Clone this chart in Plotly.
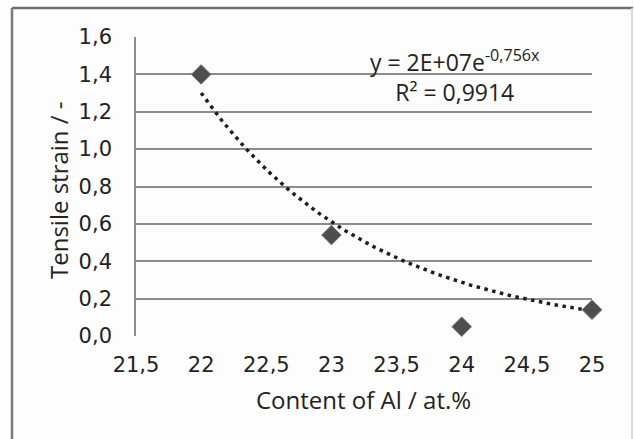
import numpy as np
import plotly.graph_objects as go

# Data
al_content = [22, 23, 24, 25]
tensile_strain = [1.40, 0.54, 0.05, 0.14]

# Exponential trendline as labelled on the chart (y = A*e^(b*x))
trend_a = 2.174e7
trend_b = -0.756
trend_x = np.linspace(22, 25, 120)
trend_y = trend_a * np.exp(trend_b * trend_x)

x_ticks = [21.5, 22, 22.5, 23, 23.5, 24, 24.5, 25]
x_tick_labels = ["21,5", "22", "22,5", "23", "23,5", "24", "24,5", "25"]
y_ticks = [0, 0.2, 0.4, 0.6, 0.8, 1.0, 1.2, 1.4, 1.6]
y_tick_labels = ["0,0", "0,2", "0,4", "0,6", "0,8", "1,0", "1,2", "1,4", "1,6"]

W, H = 634, 439
L, R, T, B = 136, 42, 37, 103
pw, ph = W - L - R, H - T - B


def px(xp):
    return (xp - L) / pw


def py(yp):
    return (H - B - yp) / ph


fig = go.Figure()
fig.add_trace(go.Scatter(
    x=trend_x, y=trend_y, mode="lines",
    line=dict(color="#1e1e1e", width=3.5, dash="3.5px,4.5px"),
    hoverinfo="skip", showlegend=False, cliponaxis=False,
))
fig.add_trace(go.Scatter(
    x=al_content, y=tensile_strain, mode="markers",
    marker=dict(symbol="diamond", size=15, color="#4e4e4e",
                line=dict(color="#6e6e6e", width=1)),
    showlegend=False, cliponaxis=False,
))

tick_font = dict(family="DejaVu Sans", size=21, color="#222222")
fig.update_xaxes(
    range=[21.5, 25], tickvals=x_ticks, ticktext=x_tick_labels,
    showgrid=False, zeroline=False, showline=False,
    ticks="", tickfont=tick_font, ticklabelstandoff=14,
)
fig.update_yaxes(
    range=[0, 1.6], tickvals=y_ticks, ticktext=y_tick_labels,
    showgrid=True, gridcolor="#8c8c8c", gridwidth=1.6,
    zeroline=False, showline=True, linecolor="#8c8c8c", linewidth=1.6,
    ticks="", tickfont=tick_font, ticklabelstandoff=18,
)

title_font = dict(family="Open Sans", size=24, color="#222222")
eq_font = dict(family="Open Sans", size=23, color="#222222")
annotations = [
    dict(text="Content of Al / at.%", x=px(363), y=py(399), xref="paper", yref="paper",
         showarrow=False, font=title_font, xanchor="center", yanchor="middle"),
    dict(text="Tensile strain / -", x=px(58), y=py(190), xref="paper", yref="paper",
         showarrow=False, font=title_font, textangle=-90, xanchor="center", yanchor="middle"),
    dict(text="y = 2E+07e<sup>-0,756x</sup><br>R² = 0,9914", x=px(455), y=py(76),
         xref="paper", yref="paper", showarrow=False, font=eq_font,
         xanchor="center", yanchor="middle", align="center"),
]

shapes = [
    dict(type="line", xref="paper", yref="paper", x0=px(12), x1=px(633), y0=py(8), y1=py(8),
         line=dict(color="#6f6f6f", width=2.5)),
    dict(type="line", xref="paper", yref="paper", x0=px(12), x1=px(12), y0=py(8), y1=py(445),
         line=dict(color="#7a7a7a", width=2.5)),
    dict(type="line", xref="paper", yref="paper", x0=px(632), x1=px(632), y0=py(8), y1=py(445),
         line=dict(color="#d0d0d0", width=1.5)),
]

fig.update_layout(
    width=W, height=H,
    margin=dict(l=L, r=R, t=T, b=B),
    paper_bgcolor="#fdfdfd", plot_bgcolor="#fdfdfd",
    annotations=annotations, shapes=shapes,
    showlegend=False,
)

fig.write_html(
    "out.html",
    config={"displayModeBar": False},
    post_script="document.body.style.margin='0px';document.body.style.overflow='hidden';",
)
